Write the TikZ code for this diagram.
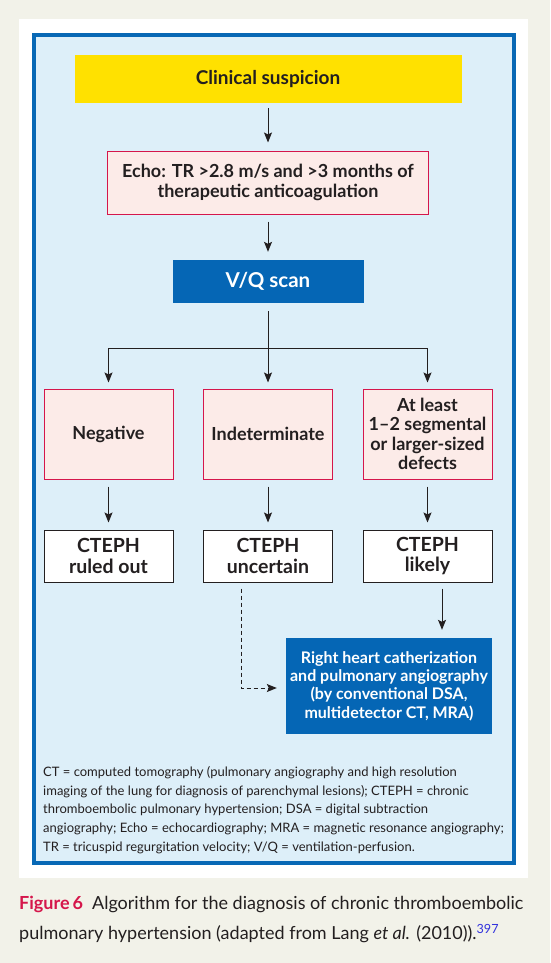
\documentclass[tikz,border=0pt]{standalone}
\usepackage{fontspec}
\setmainfont{Lato}
\usetikzlibrary{arrows.meta}
\definecolor{bgbeige}{HTML}{F2F2E9}
\definecolor{frameblue}{HTML}{0868B5}
\definecolor{lightblue}{HTML}{DDEFF9}
\definecolor{yel}{HTML}{FFE100}
\definecolor{pinkfill}{HTML}{FCEBE8}
\definecolor{crimson}{HTML}{D5164B}
\definecolor{darkblue}{HTML}{0566B5}
\definecolor{ink}{HTML}{231F20}
\definecolor{refblue}{HTML}{3333DD}
\tikzset{
  box/.style={inner sep=0pt, align=center, text=ink, font=\bfseries\fontsize{18}{20}\selectfont},
  pinkbox/.style={box, fill=pinkfill, draw=crimson, line width=1pt},
  whitebox/.style={box, fill=white, draw=ink, line width=1pt, font=\bfseries\fontsize{19.5}{20.5}\selectfont},
  bluebox/.style={box, fill=darkblue, text=white},
  arr/.style={-{Stealth[length=10pt,width=8pt,inset=2pt]}, line width=1pt, draw=ink},
  dasharr/.style={arr, dash pattern=on 4pt off 3pt},
}
\begin{document}
\begin{tikzpicture}[x=1pt,y=-1pt]
\useasboundingbox (0,0) rectangle (550,963);
\fill[bgbeige] (0,0) rectangle (550,963);
\fill[white] (19,19) rectangle (528,878);
\draw[frameblue, line width=4pt, fill=lightblue] (34,35) rectangle (514,863);

\node[box, fill=yel, minimum width=387pt, minimum height=48pt, font=\bfseries\fontsize{19}{20}\selectfont] (clin) at (268,79) {Clinical suspicion};
\node[pinkbox, minimum width=321pt, minimum height=63pt] (echo) at (268,182.5) {Echo: TR >2.8 m/s and >3 months of\\therapeutic anticoagulation};
\node[bluebox, minimum width=191pt, minimum height=43pt, font=\bfseries\fontsize{20.5}{22}\selectfont] (vq) at (268,281.5) {V/Q scan};

\node[pinkbox, minimum width=129pt, minimum height=90pt] (neg) at (108.5,434) {Negative};
\node[pinkbox, minimum width=129pt, minimum height=90pt] (ind) at (268,434) {Indeterminate};
\node[pinkbox, minimum width=129pt, minimum height=90pt, font=\bfseries\fontsize{18}{19.5}\selectfont] (def) at (427.5,434) {At least\\1–2 segmental\\or larger-sized\\defects};

\node[whitebox, minimum width=129pt, minimum height=52pt] (out) at (108.5,556) {CTEPH\\ruled out};
\node[whitebox, minimum width=129pt, minimum height=52pt] (unc) at (268,556) {CTEPH\\uncertain};
\node[whitebox, minimum width=129pt, minimum height=52pt] (lik) at (427.5,556) {CTEPH\\likely};

\node[bluebox, minimum width=206pt, minimum height=96pt, font=\bfseries\fontsize{16}{18.3}\selectfont] (rhc) at (389,686) {Right heart catherization\\and pulmonary angiography\\(by conventional DSA,\\multidetector CT, MRA)};

\coordinate (bar) at (268,348);
\draw[line width=1pt, ink] ([yshift=-8pt]vq.south) -- (bar);
\draw[line width=1pt, ink] (neg.north |- bar) -- (def.north |- bar);
\draw[arr] ([yshift=-5pt]clin.south) -- ([yshift=8pt]echo.north);
\draw[arr] ([yshift=-7pt]echo.south) -- ([yshift=8pt]vq.north);
\draw[arr] (neg.north |- bar) -- ([yshift=6pt]neg.north);
\draw[arr] (bar) -- ([yshift=6pt]ind.north);
\draw[arr] (def.north |- bar) -- ([yshift=6pt]def.north);
\draw[arr] ([yshift=-7pt]neg.south) -- ([yshift=7pt]out.north);
\draw[arr] ([yshift=-7pt]ind.south) -- ([yshift=7pt]unc.north);
\draw[arr] ([yshift=-7pt]def.south) -- ([yshift=7pt]lik.north);
\draw[arr] ([xshift=14.5pt,yshift=-6pt]lik.south) -- ([xshift=14.5pt,yshift=8pt]lik.south |- rhc.north);
\coordinate (dcorner) at (241,688);
\draw[dasharr] ([xshift=-27pt,yshift=-6pt]unc.south) -- (dcorner) -- ([xshift=-9pt]rhc.west |- dcorner);

\node[anchor=north west, inner sep=0pt, align=left, text=ink, font=\fontsize{13}{18.8}\selectfont] (legend) at (43,766)
{CT = computed tomography (pulmonary angiography and high resolution\\
imaging of the lung for diagnosis of parenchymal lesions); CTEPH = chronic\\
thromboembolic pulmonary hypertension; DSA = digital subtraction\\
angiography; Echo = echocardiography; MRA = magnetic resonance angiography;\\
TR = tricuspid regurgitation velocity; V/Q = ventilation-perfusion.};

\node[anchor=north west, inner sep=0pt, align=left, text=ink, font=\fontsize{18}{30}\selectfont] (caption) at (19,896)
{{\color{crimson}\bfseries Figure\,6}\enspace Algorithm for the diagnosis of chronic thromboembolic\\
pulmonary hypertension (adapted from Lang \textit{et al.} (2010)).\textsuperscript{\color{refblue}397}};
\end{tikzpicture}
\end{document}
